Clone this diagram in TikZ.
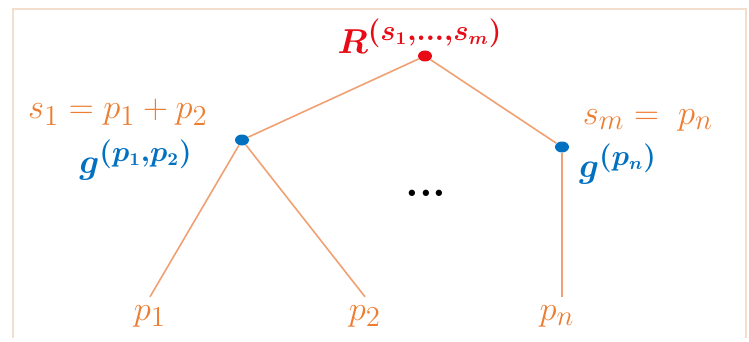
\documentclass[tikz,border=0pt]{standalone}
\usepackage{amsmath,bm}
\usetikzlibrary{shapes.geometric}
\definecolor{tangerine}{RGB}{237,125,49}
\definecolor{branch}{RGB}{240,160,115}
\definecolor{rootred}{RGB}{232,10,20}
\definecolor{leafblue}{RGB}{0,112,192}
\definecolor{frame}{RGB}{242,222,205}

\begin{document}
\begin{tikzpicture}[
  x=0.5pt, y=-0.5pt,
  font=\fontsize{19}{22}\selectfont,
  dot/.style={ellipse, inner sep=0pt, minimum width=7pt, minimum height=5.5pt},
  rootdot/.style={dot, fill=rootred},
  gdot/.style={dot, fill=leafblue},
  leaf/.style={text=tangerine, inner sep=4pt},
  lbl/.style={text=tangerine, inner sep=0pt},
  glbl/.style={text=leafblue, inner sep=0pt},
  edge/.style={draw=branch, line width=0.8pt},
]
\useasboundingbox (0,0) rectangle (749,342);
\draw[frame, line width=1pt] (13,338) -- (13,9) -- (746,9) -- (746,338);

\node[rootdot] (root) at (425,56) {};
\node[gdot] (gl) at (242,140) {};
\node[gdot] (gr) at (562,147) {};

\node[leaf] (p1) at (150,316) {$p_1$};
\node[leaf] (p2) at (365,316) {$p_2$};
\node[leaf] (pn) at (557,316) {$p_n$};

\draw[edge] (root) -- (gl);
\draw[edge] (root) -- (gr);
\draw[edge] (gl) -- (p1.north);
\draw[edge] (gl) -- (p2.north);
\draw[edge] (gr) -- (gr |- pn.north);

\node[text=rootred, inner sep=0pt] (rlbl) at (420,36) {$\bm{R^{(s_1,\dots,s_m)}}$};
\node[lbl] (sl) at (118,112) {$s_1 = p_1 + p_2$};
\node[glbl] (gll) at (136,160) {$\bm{g^{(p_1,p_2)}}$};
\node[lbl] (sr) at (648,120) {$s_m =\; p_n$};
\node[glbl] (grl) at (618,164) {$\bm{g^{(p_n)}}$};
\node[font=\bfseries\fontsize{22}{24}\selectfont] (dots) at (426,193) {...};
\end{tikzpicture}
\end{document}
